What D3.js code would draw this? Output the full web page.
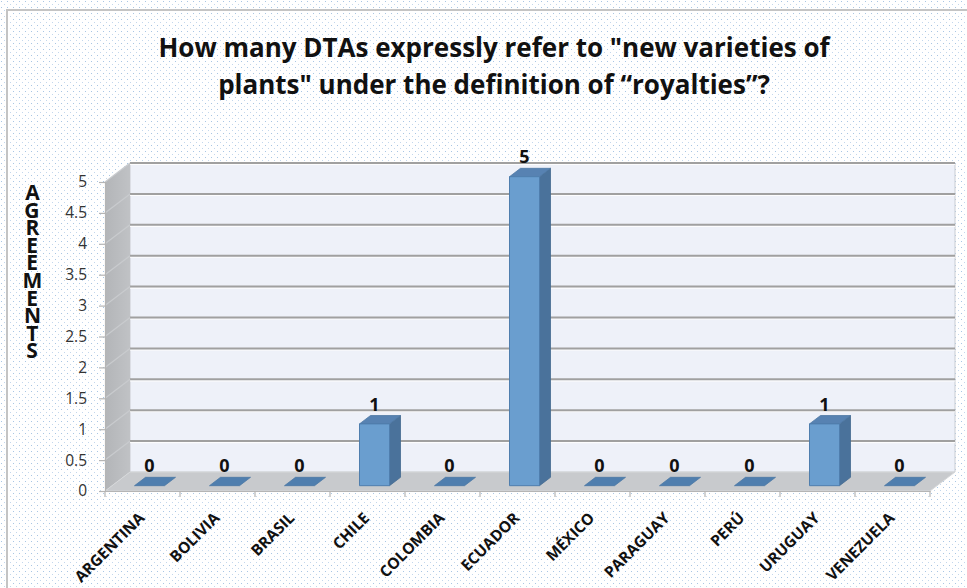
<!DOCTYPE html>
<html>
<head>
<meta charset="utf-8">
<script src="https://cdn.jsdelivr.net/npm/d3@7"></script>
<style>
  html, body { margin: 0; padding: 0; background: #ffffff; }
  svg { display: block; }
  text { font-family: "Open Sans", "DejaVu Sans", sans-serif; }
</style>
</head>
<body>
<svg id="chart" width="967" height="588"></svg>
<script>
// Data
const titleLines = ["How many DTAs expressly refer to \"new varieties of", "plants\" under the definition of  \u201croyalties\u201d?"];
const countries = ["ARGENTINA", "BOLIVIA", "BRASIL", "CHILE", "COLOMBIA", "ECUADOR", "MÉXICO", "PARAGUAY", "PERÚ", "URUGUAY", "VENEZUELA"];
const agreements = [0, 0, 0, 1, 0, 5, 0, 0, 0, 1, 0];
const yTicks = [0, 0.5, 1, 1.5, 2, 2.5, 3, 3.5, 4, 4.5, 5];
const yTitle = "AGREEMENTS";

const svg = d3.select("#chart");

// Dotted backdrop
const defs = svg.append("defs");
const pat = defs.append("pattern").attr("id", "dots").attr("width", 6).attr("height", 6)
  .attr("patternUnits", "userSpaceOnUse");
pat.append("rect").attr("width", 6).attr("height", 6).attr("fill", "#ffffff");
pat.append("rect").attr("x", 1).attr("y", 1).attr("width", 1).attr("height", 1).attr("fill", "#a9c6e4");
pat.append("rect").attr("x", 4).attr("y", 4).attr("width", 1).attr("height", 1).attr("fill", "#c3d7ec");

const sideGrad = defs.append("linearGradient").attr("id", "sideGrad").attr("x1", 0).attr("y1", 0).attr("x2", 1).attr("y2", 0);
sideGrad.append("stop").attr("offset", "0%").attr("stop-color", "#b3b5b8");
sideGrad.append("stop").attr("offset", "100%").attr("stop-color", "#c0c2c5");

svg.append("rect").attr("x", 0).attr("y", 0).attr("width", 967).attr("height", 588).attr("fill", "url(#dots)");
svg.append("rect").attr("x", 7).attr("y", 10).attr("width", 980).attr("height", 600)
  .attr("fill", "none").attr("stroke", "#c4c4c4").attr("stroke-width", 2);

// Scales (front plane) and depth offset
const x = d3.scaleBand().domain(countries).range([105, 930]).padding(0);
const y = d3.scaleLinear().domain([0, 5]).range([491, 182]);
const DX = 25, DY = -19;            // depth of the plot box
const f0 = 0.28, f1 = 0.72;         // bar depth span within the box
const barW = x.bandwidth() * 0.4;

const P = (px, py, f) => [px + DX * f, py + DY * f];
const poly = pts => pts.map(p => p.join(",")).join(" ");

// Back wall
const xL = x.range()[0], xR = x.range()[1];
svg.append("polygon")
  .attr("points", poly([P(xL, y(5), 1), P(xR, y(5), 1), P(xR, y(0), 1), P(xL, y(0), 1)]))
  .attr("fill", "#eef1f9").attr("stroke", "#c9ccd2").attr("stroke-width", 1);

// Side wall
svg.append("polygon")
  .attr("points", poly([[xL, y(5)], P(xL, y(5), 1), P(xL, y(0), 1), [xL, y(0)]]))
  .attr("fill", "url(#sideGrad)");

// Floor
svg.append("polygon")
  .attr("points", poly([[xL, y(0)], P(xL, y(0), 1), P(xR, y(0), 1), [xR, y(0)]]))
  .attr("fill", "#c8cacd").attr("stroke", "#d6d8da").attr("stroke-width", 1);

// Gridlines on back wall and side wall
const grid = svg.append("g");
yTicks.filter(v => v > 0).forEach(v => {
  const a = P(xL, y(v), 1), b = P(xR, y(v), 1);
  grid.append("line").attr("x1", a[0]).attr("x2", b[0]).attr("y1", a[1] + 1.5).attr("y2", b[1] + 1.5)
    .attr("stroke", "#ffffff").attr("stroke-width", 1.2).attr("opacity", 0.9);
  grid.append("line").attr("x1", a[0]).attr("x2", b[0]).attr("y1", a[1]).attr("y2", b[1])
    .attr("stroke", "#a0a0a0").attr("stroke-width", 2);
  grid.append("line").attr("x1", xL).attr("y1", y(v)).attr("x2", a[0]).attr("y2", a[1])
    .attr("stroke", "#c9cbce").attr("stroke-width", 1.2);
});

// Y axis: line, ticks and labels on the front plane
const yAxis = d3.axisLeft(y).tickValues(yTicks).tickSize(6).tickPadding(12)
  .tickFormat(d => String(d));
const gy = svg.append("g").attr("transform", `translate(${xL},0)`).call(yAxis);
gy.select(".domain").attr("stroke", "#b5b5b5").attr("stroke-width", 1.2);
gy.selectAll(".tick line").attr("stroke", "#b5b5b5").attr("stroke-width", 1.2);
gy.selectAll(".tick text").attr("font-size", 15.5).attr("fill", "#333333")
  .style("font-family", "'Open Sans', sans-serif");

// X axis along the front floor edge
const xAxis = d3.axisBottom(x).tickSize(0).tickFormat("");
const gx = svg.append("g").attr("transform", `translate(0,${y(0)})`).call(xAxis);
gx.select(".domain").attr("stroke", "#b5b5b5").attr("stroke-width", 1.2);
gx.selectAll(".tick").remove();
svg.append("g").selectAll("line")
  .data(countries.map(c => x(c)).concat([xR]))
  .join("line")
  .attr("x1", d => d).attr("x2", d => d)
  .attr("y1", y(0)).attr("y2", y(0) + 6)
  .attr("stroke", "#b5b5b5").attr("stroke-width", 1.2);

// Rotated category labels
svg.append("g").selectAll("text")
  .data(countries)
  .join("text")
  .attr("transform", d => `translate(${x(d) + x.bandwidth() / 2 + 3},519) rotate(-45)`)
  .attr("text-anchor", "end")
  .attr("font-size", 15.5).attr("font-weight", 700).attr("fill", "#111111")
  .text(d => d);

// Bars
const data = countries.map((c, i) => ({ c, v: agreements[i] }));
const bars = svg.append("g");
data.forEach(d => {
  const bx = x(d.c) + (x.bandwidth() - barW) / 2;
  const fl = P(bx, y(0), f0), fr = P(bx + barW, y(0), f0);
  const tl = P(bx, y(d.v), f0), tr = P(bx + barW, y(d.v), f0);
  const dd = f1 - f0;
  const shift = p => [p[0] + DX * dd, p[1] + DY * dd];
  if (d.v === 0) {
    bars.append("polygon")
      .attr("points", poly([fl, fr, shift(fr), shift(fl)]))
      .attr("fill", "#4f7eae").attr("stroke", "#4a77a4").attr("stroke-width", 0.8);
  } else {
    // side
    bars.append("polygon")
      .attr("points", poly([fr, tr, shift(tr), shift(fr)]))
      .attr("fill", "#4a729b").attr("stroke", "#43698f").attr("stroke-width", 0.8);
    // top
    bars.append("polygon")
      .attr("points", poly([tl, tr, shift(tr), shift(tl)]))
      .attr("fill", "#5782b2").attr("stroke", "#4d77a3").attr("stroke-width", 0.8);
    // front
    bars.append("polygon")
      .attr("points", poly([fl, fr, tr, tl]))
      .attr("fill", "#6a9ecf").attr("stroke", "#4f7eae").attr("stroke-width", 1);
  }
  const top = shift(tl);
  bars.append("text")
    .attr("x", tl[0] + barW / 2).attr("y", top[1] - 5)
    .attr("text-anchor", "middle")
    .attr("font-size", 18).attr("font-weight", 700).attr("fill", "#111111")
    .text(d.v);
});

// Title
svg.append("g").selectAll("text")
  .data(titleLines)
  .join("text")
  .attr("x", 494).attr("y", (d, i) => 57 + i * 37)
  .attr("text-anchor", "middle")
  .attr("font-size", 26).attr("font-weight", 700).attr("fill", "#111111")
  .text(d => d);

// Vertical axis title, letters stacked upright in a single run
const yTitleText = svg.append("text")
  .attr("x", 32).attr("y", 178)
  .attr("font-size", 21).attr("font-weight", 700).attr("fill", "#111111")
  .style("writing-mode", "vertical-rl")
  .style("text-orientation", "upright")
  .text(yTitle);
// tighten the letter pitch so the column spans the same height as the axis
const natural = yTitleText.node().getComputedTextLength();
const pitch = 17.6;
yTitleText.style("letter-spacing", `${pitch - natural / yTitle.length}px`);
</script>
</body>
</html>
